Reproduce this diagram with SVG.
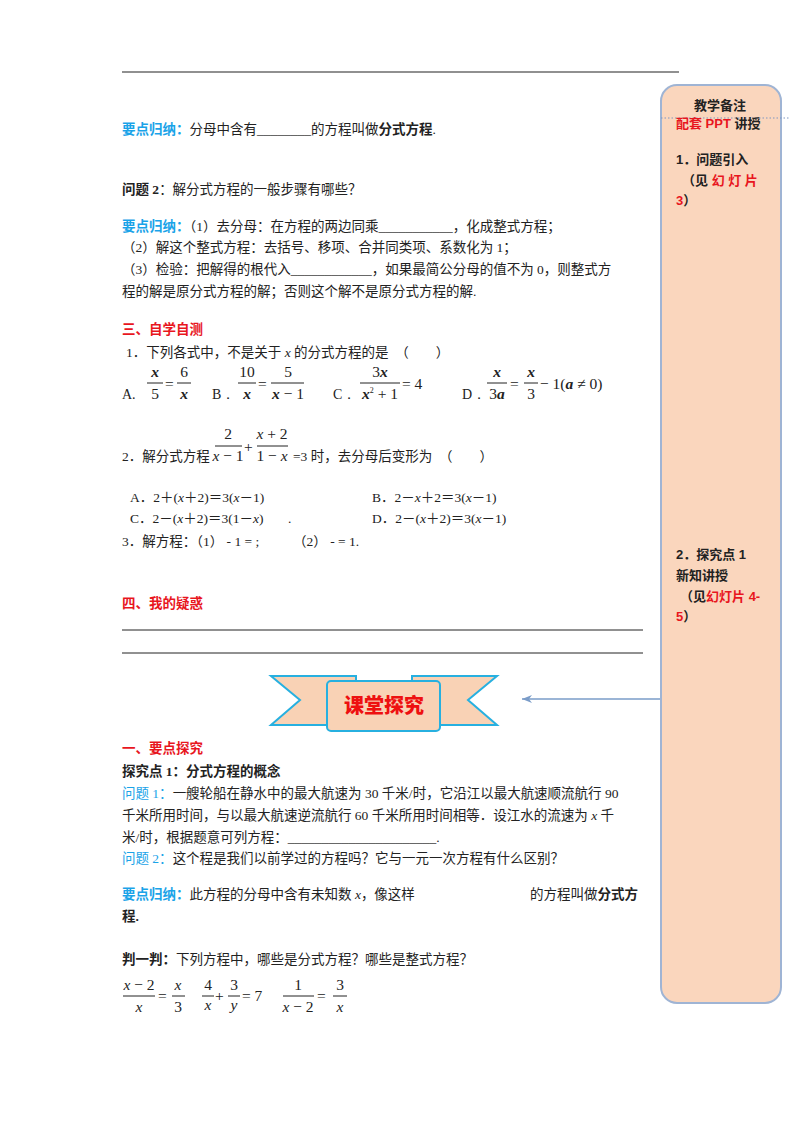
<svg xmlns="http://www.w3.org/2000/svg" width="800" height="1132" viewBox="0 0 800 1132">
<style>
text{font-family:"Liberation Serif","Noto Sans CJK SC",serif;font-size:13.5px;fill:#222}
.c{fill:#1aa3e8;font-weight:bold}
.r{fill:#e8161e;font-weight:bold}
.b{font-weight:bold}
.s{font-family:"Liberation Sans","Noto Sans CJK SC",sans-serif;font-weight:bold;font-size:13px}
.sr{fill:#e8161e}
.m text{font-family:"Liberation Serif",serif;font-size:15.5px}
.i{font-style:italic}
line.f{stroke:#222;stroke-width:1}
</style>
<defs><marker id="ah" markerWidth="10" markerHeight="8" refX="10" refY="4" orient="auto" markerUnits="userSpaceOnUse"><path d="M0,0 L10,4 L0,8 L3,4 Z" fill="#7a9cc8"/></marker></defs>
<rect width="800" height="1132" fill="#fff"/>
<line x1="122" y1="72" x2="679" y2="72" stroke="#222" stroke-width="1.2"/>

<g id="sidebar">
<rect x="661" y="85" width="120" height="918" rx="16" fill="#fad6bd" stroke="#9fb4d4" stroke-width="2"/>
<line x1="661" y1="118" x2="790" y2="118" stroke="#7f96c0" stroke-dasharray="1.5,2"/>
<text x="720" y="110" text-anchor="middle" class="s" style="font-size:13px">教学备注</text>
<text x="676" y="128" class="s"><tspan class="sr">配套 PPT</tspan> 讲授</text>
<text x="676" y="164" class="s">1．问题引入</text>
<text x="682" y="185" class="s">（见 <tspan class="sr">幻 灯 片</tspan></text>
<text x="676" y="205" class="s"><tspan class="sr">3</tspan>）</text>
<text x="676" y="559" class="s">2．探究点 1</text>
<text x="676" y="580" class="s">新知讲授</text>
<text x="680" y="601" class="s">（见<tspan class="sr">幻灯片 4-</tspan></text>
<text x="676" y="621" class="s"><tspan class="sr">5</tspan>）</text>
</g>

<g id="connectors">
<line x1="660" y1="699" x2="522" y2="699" stroke="#7a9cc8" stroke-width="1.5" marker-end="url(#ah)"/>
</g>

<g id="banner">
<polygon points="271,676 356,676 356,725 271,725 300,700" fill="#f9d2b5" stroke="#27b0e0" stroke-width="2"/>
<polygon points="497,676 412,676 412,725 497,725 468,700" fill="#f9d2b5" stroke="#27b0e0" stroke-width="2"/>
<rect x="327" y="681" width="113" height="50" rx="4" fill="#f9d2b5" stroke="#27b0e0" stroke-width="2"/>
<text x="384" y="713" text-anchor="middle" style="font-family:'Noto Sans CJK SC',sans-serif;font-weight:900;font-size:20px;fill:#ee1010">课堂探究</text>
</g>

<text x="122" y="134"><tspan class="c">要点归纳：</tspan>分母中含有________的方程叫做<tspan class="b">分式方程</tspan>.</text>
<text x="122" y="194"><tspan class="b">问题 2</tspan>：解分式方程的一般步骤有哪些？</text>
<text x="122" y="231"><tspan class="c">要点归纳：</tspan>（1）去分母：在方程的两边同乘___________，化成整式方程；</text>
<text x="122" y="252">（2）解这个整式方程：去括号、移项、合并同类项、系数化为 1；</text>
<text x="122" y="274">（3）检验：把解得的根代入____________，如果最简公分母的值不为 0，则整式方</text>
<text x="122" y="296">程的解是原分式方程的解；否则这个解不是原分式方程的解.</text>
<text x="122" y="334" class="r">三、自学自测</text>
<text x="126" y="357">1．下列各式中，不是关于 <tspan class="i">x</tspan> 的分式方程的是　（　　）</text>

<g class="m">
<text x="122" y="399" style="font-size:14px">A.</text>
<text x="155" y="377" text-anchor="middle" class="b i">x</text><line class="f" x1="147" y1="383" x2="163" y2="383"/><text x="155" y="399" text-anchor="middle">5</text>
<text x="165" y="389">=</text>
<text x="184" y="377" text-anchor="middle">6</text><line class="f" x1="177" y1="383" x2="191" y2="383"/><text x="184" y="399" text-anchor="middle" class="b i">x</text>
<text x="212" y="399" style="font-size:14px">B．</text>
<text x="247" y="377" text-anchor="middle">10</text><line class="f" x1="238" y1="383" x2="256" y2="383"/><text x="247" y="399" text-anchor="middle" class="b i">x</text>
<text x="258" y="389">=</text>
<text x="288" y="377" text-anchor="middle">5</text><line class="f" x1="271" y1="383" x2="304" y2="383"/><text x="288" y="399" text-anchor="middle"><tspan class="b i">x</tspan> − 1</text>
<text x="333" y="399" style="font-size:14px">C．</text>
<text x="380" y="377" text-anchor="middle">3<tspan class="b i">x</tspan></text><line class="f" x1="360" y1="383" x2="400" y2="383"/><text x="380" y="399" text-anchor="middle"><tspan class="b i">x</tspan><tspan font-size="8" dy="-6">2</tspan><tspan dy="6"> + 1</tspan></text>
<text x="402" y="389">= 4</text>
<text x="462" y="399" style="font-size:14px">D．</text>
<text x="497" y="377" text-anchor="middle" class="b i">x</text><line class="f" x1="487" y1="383" x2="507" y2="383"/><text x="497" y="399" text-anchor="middle">3<tspan class="b i">a</tspan></text>
<text x="510" y="389">=</text>
<text x="531" y="377" text-anchor="middle" class="b i">x</text><line class="f" x1="524" y1="383" x2="538" y2="383"/><text x="531" y="399" text-anchor="middle">3</text>
<text x="540" y="389">− 1(<tspan class="b i">a</tspan> ≠ 0)</text>
</g>

<text x="122" y="461">2．解分式方程</text>
<g class="m">
<text x="228" y="439" text-anchor="middle">2</text><line class="f" x1="215" y1="446" x2="242" y2="446"/><text x="228" y="461" text-anchor="middle"><tspan class="i">x</tspan> − 1</text>
<text x="244" y="452">+</text>
<text x="272" y="439" text-anchor="middle"><tspan class="i">x</tspan> + 2</text><line class="f" x1="257" y1="446" x2="288" y2="446"/><text x="272" y="461" text-anchor="middle">1 − <tspan class="i">x</tspan></text>
</g>
<text x="293" y="461">=3 时，去分母后变形为　（　　）</text>

<text x="130" y="502">A．2＋(<tspan class="i">x</tspan>＋2)＝3(<tspan class="i">x</tspan>－1)</text>
<text x="372" y="502">B．2－<tspan class="i">x</tspan>＋2＝3(<tspan class="i">x</tspan>－1)</text>
<text x="130" y="523">C．2－(<tspan class="i">x</tspan>＋2)＝3(1－<tspan class="i">x</tspan>)</text>
<text x="288" y="523">.</text>
<text x="372" y="523">D．2－(<tspan class="i">x</tspan>＋2)＝3(<tspan class="i">x</tspan>－1)</text>
<text x="122" y="546">3．解方程：（1） - 1 = ;　　　（2） - = 1.</text>

<text x="122" y="608" class="r">四、我的疑惑</text>
<line x1="122" y1="630" x2="643" y2="630" stroke="#222"/>
<line x1="122" y1="653" x2="643" y2="653" stroke="#222"/>

<text x="122" y="753" class="r">一、要点探究</text>
<text x="122" y="776" class="b">探究点 1：分式方程的概念</text>
<text x="122" y="798"><tspan class="c" style="font-weight:normal">问题 1：</tspan>一艘轮船在静水中的最大航速为 30 千米/时，它沿江以最大航速顺流航行 90</text>
<text x="122" y="820">千米所用时间，与以最大航速逆流航行 60 千米所用时间相等．设江水的流速为 <tspan class="i">x</tspan> 千</text>
<text x="122" y="842">米/时，根据题意可列方程：______________________.</text>
<text x="122" y="863"><tspan class="c" style="font-weight:normal">问题 2：</tspan>这个程是我们以前学过的方程吗？它与一元一次方程有什么区别？</text>
<text x="122" y="899"><tspan class="c">要点归纳：</tspan>此方程的分母中含有未知数 <tspan class="i">x</tspan>，像这样</text>
<text x="530" y="899">的方程叫做<tspan class="b">分式方</tspan></text>
<text x="122" y="921" class="b">程.</text>

<text x="122" y="964"><tspan class="b">判一判：</tspan>下列方程中，哪些是分式方程？哪些是整式方程？</text>
<g class="m">
<text x="139" y="990" text-anchor="middle"><tspan class="i">x</tspan> − 2</text><line class="f" x1="123" y1="996" x2="155" y2="996"/><text x="139" y="1012" text-anchor="middle" class="i">x</text>
<text x="158" y="1001">=</text>
<text x="178" y="990" text-anchor="middle" class="i">x</text><line class="f" x1="172" y1="996" x2="185" y2="996"/><text x="178" y="1012" text-anchor="middle">3</text>
<text x="208" y="990" text-anchor="middle">4</text><line class="f" x1="202" y1="996" x2="214" y2="996"/><text x="208" y="1010" text-anchor="middle" class="i">x</text>
<text x="215" y="1001">+</text>
<text x="234" y="990" text-anchor="middle">3</text><line class="f" x1="228" y1="996" x2="240" y2="996"/><text x="234" y="1010" text-anchor="middle" class="i">y</text>
<text x="242" y="1001">= 7</text>
<text x="298" y="990" text-anchor="middle">1</text><line class="f" x1="283" y1="996" x2="314" y2="996"/><text x="298" y="1012" text-anchor="middle"><tspan class="i">x</tspan> − 2</text>
<text x="317" y="1001">=</text>
<text x="340" y="990" text-anchor="middle">3</text><line class="f" x1="333" y1="996" x2="347" y2="996"/><text x="340" y="1012" text-anchor="middle" class="i">x</text>
</g>
</svg>
